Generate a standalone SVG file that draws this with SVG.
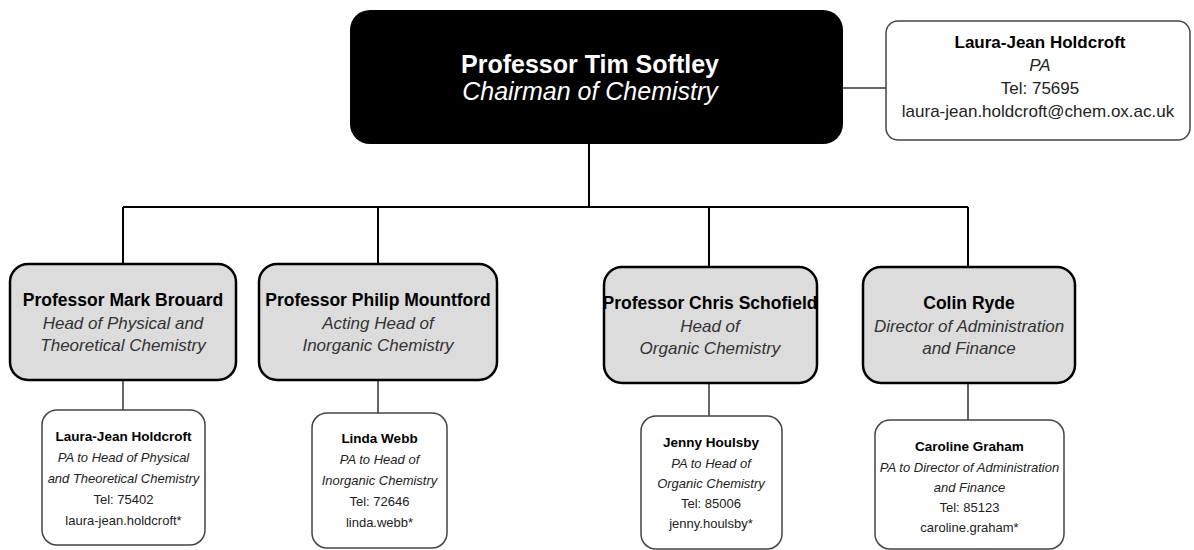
<svg xmlns="http://www.w3.org/2000/svg" width="1194" height="550" viewBox="0 0 1194 550">
  <style>
    text { font-family: "Liberation Sans", Arial, sans-serif; text-anchor: middle; }
    .wire { fill: none; stroke: #000; stroke-width: 2; }
    .thin { fill: none; stroke: #333; stroke-width: 1.5; }
    .chair { fill: #000; }
    .head { fill: #dcdcdc; stroke: #000; stroke-width: 2.5; }
    .pa { fill: #fff; stroke: #444; stroke-width: 1.5; }
    .t-chair { fill: #fff; font-size: 25px; }
    .t-head { fill: #000; font-size: 17.5px; font-weight: bold; }
    .t-role { fill: #333; font-size: 17px; font-style: italic; }
    .t-pa-name { fill: #000; font-size: 13.5px; font-weight: bold; }
    .t-pa-role { fill: #222; font-size: 13px; font-style: italic; }
    .t-pa { fill: #222; font-size: 13px; }
    .t-top-name { fill: #000; font-size: 17px; font-weight: bold; }
    .t-top { fill: #222; font-size: 17px; }
    .b { font-weight: bold; }
    .i { font-style: italic; }
  </style>

  <!-- connectors -->
  <g id="connectors">
    <path class="wire" d="M589 144 V207 M123 207 H968 M123 207 V264 M378 207 V264 M709 207 V267 M968 207 V267"/>
    <path class="thin" d="M843 88 H886"/>
    <path class="thin" d="M123 380 V410 M378 380 V413 M709 383 V416 M968 383 V420"/>
  </g>

  <!-- chairman -->
  <g id="chairman">
    <rect class="chair" x="350" y="10" width="493" height="134" rx="20"/>
    <text class="t-chair b" x="590" y="73">Professor Tim Softley</text>
    <text class="t-chair i" x="590" y="100">Chairman of Chemistry</text>
  </g>

  <!-- chairman's PA -->
  <g id="chair-pa">
    <rect class="pa" x="886" y="21" width="304" height="119" rx="12"/>
    <text class="t-top-name" x="1040" y="48">Laura-Jean Holdcroft</text>
    <text class="t-top i" x="1040" y="71">PA</text>
    <text class="t-top" x="1040" y="94">Tel: 75695</text>
    <text class="t-top" x="1038" y="117">laura-jean.holdcroft@chem.ox.ac.uk</text>
  </g>

  <!-- heads of section -->
  <g id="head-physical">
    <rect class="head" x="10" y="264" width="226" height="116" rx="18"/>
    <text class="t-head" x="123" y="306">Professor Mark Brouard</text>
    <text class="t-role" x="123" y="329">Head of Physical and</text>
    <text class="t-role" x="123" y="351">Theoretical Chemistry</text>
  </g>

  <g id="head-inorganic">
    <rect class="head" x="259" y="264" width="238" height="116" rx="18"/>
    <text class="t-head" x="378" y="306">Professor Philip Mountford</text>
    <text class="t-role" x="378" y="329">Acting Head of</text>
    <text class="t-role" x="378" y="351">Inorganic Chemistry</text>
  </g>

  <g id="head-organic">
    <rect class="head" x="604" y="267" width="213" height="116" rx="18"/>
    <text class="t-head" x="710" y="309">Professor Chris Schofield</text>
    <text class="t-role" x="710" y="332">Head of</text>
    <text class="t-role" x="710" y="354">Organic Chemistry</text>
  </g>

  <g id="head-admin">
    <rect class="head" x="863" y="267" width="212" height="116" rx="18"/>
    <text class="t-head" x="969" y="309">Colin Ryde</text>
    <text class="t-role" x="969" y="332">Director of Administration</text>
    <text class="t-role" x="969" y="354">and Finance</text>
  </g>

  <!-- personal assistants -->
  <g id="pa-physical">
    <rect class="pa" x="42" y="410" width="163" height="135" rx="15"/>
    <text class="t-pa-name" x="123.5" y="441">Laura-Jean Holdcroft</text>
    <text class="t-pa-role" x="123.5" y="462">PA to Head of Physical</text>
    <text class="t-pa-role" x="123.5" y="483">and Theoretical Chemistry</text>
    <text class="t-pa" x="123.5" y="504">Tel: 75402</text>
    <text class="t-pa" x="123.5" y="525">laura-jean.holdcroft*</text>
  </g>

  <g id="pa-inorganic">
    <rect class="pa" x="312" y="413" width="135" height="135" rx="15"/>
    <text class="t-pa-name" x="379.5" y="443">Linda Webb</text>
    <text class="t-pa-role" x="379.5" y="464">PA to Head of</text>
    <text class="t-pa-role" x="379.5" y="485">Inorganic Chemistry</text>
    <text class="t-pa" x="379.5" y="506">Tel: 72646</text>
    <text class="t-pa" x="379.5" y="527">linda.webb*</text>
  </g>

  <g id="pa-organic">
    <rect class="pa" x="641" y="416" width="141" height="133" rx="15"/>
    <text class="t-pa-name" x="711" y="447">Jenny Houlsby</text>
    <text class="t-pa-role" x="711" y="468">PA to Head of</text>
    <text class="t-pa-role" x="711" y="488">Organic Chemistry</text>
    <text class="t-pa" x="711" y="508">Tel: 85006</text>
    <text class="t-pa" x="711" y="528">jenny.houlsby*</text>
  </g>

  <g id="pa-admin">
    <rect class="pa" x="875" y="420" width="189" height="129" rx="15"/>
    <text class="t-pa-name" x="969.5" y="451">Caroline Graham</text>
    <text class="t-pa-role" x="969.5" y="472">PA to Director of Administration</text>
    <text class="t-pa-role" x="969.5" y="492">and Finance</text>
    <text class="t-pa" x="969.5" y="512">Tel: 85123</text>
    <text class="t-pa" x="969.5" y="532">caroline.graham*</text>
  </g>
</svg>
